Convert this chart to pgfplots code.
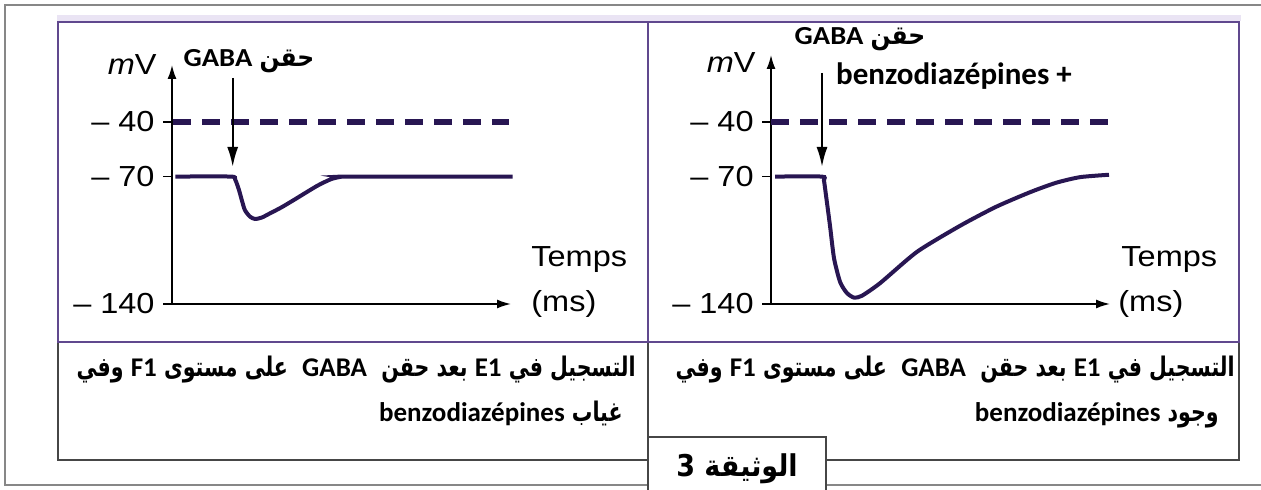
\documentclass[border=0pt]{standalone}
\usepackage{fontspec}
\usepackage{pgfplots}
\pgfplotsset{compat=1.18}
\usetikzlibrary{arrows.meta}
\setmainfont{Liberation Sans}
\TeXXeTstate=1
\newfontfamily\helv[FakeStretch=1.12]{Liberation Sans}
\newfontfamily\arabicfont[Script=Arabic,FakeStretch=0.9]{DejaVu Sans}
\newfontfamily\arabiccap[Script=Arabic,FakeStretch=0.76]{DejaVu Sans}
\newfontfamily\calfont{Carlito}
\newfontfamily\calwfont[FakeStretch=1.1]{Carlito}
\definecolor{curvec}{RGB}{40,22,82}
\definecolor{framec}{RGB}{96,72,142}
\definecolor{lav}{RGB}{234,228,244}
\definecolor{outerc}{RGB}{135,135,135}
\definecolor{boxc}{RGB}{70,70,70}
\newcommand{\lbl}{\fontsize{14.5}{16}\selectfont\helv}
\newcommand{\la}[1]{\beginL{\fontsize{13.5}{15}\selectfont\calfont\bfseries #1}\endL{}}
\newcommand{\lw}[1]{\beginL{\calwfont\bfseries #1}\endL{}}
\pgfplotsset{panel/.style={
  scale only axis, width=169.5pt,
  axis lines=left,
  axis line style={line width=0.8pt, black, -{Latex[length=7pt,width=4.5pt]}},
  xmin=0, xmax=100, ymin=-140,
  xtick=\empty,
  ytick={-140,-70,-40},
  yticklabels={– 140,– 70,– 40},
  tick align=outside, major tick length=4.5pt,
  tick style={line width=0.8pt, black},
  yticklabel style={font=\lbl, inner sep=0pt, xshift=-4pt},
  clip=false}}
\begin{document}
\begin{tikzpicture}[x=0.5pt,y=-0.5pt]
\useasboundingbox (0,0) rectangle (1261,490);
% outer gray frame
\draw[outerc, line width=0.8pt] (5,5) rectangle (1290,485);
\fill[lav] (57,15) rectangle (1241,21);
% caption box
\draw[boxc, line width=0.7pt] (58,342) -- (58,460) -- (1239,460) -- (1239,342);
\draw[boxc, line width=0.7pt] (648,342) -- (648,437);
\fill[white] (648,437) rectangle (826,495);
\draw[boxc, line width=0.7pt] (648,495) -- (648,437) -- (826,437) -- (826,495);
% purple frame
\draw[framec, line width=1.1pt] (58,22) rectangle (1239,342);
\draw[framec, line width=1.1pt] (648,22) -- (648,342);

% ---- left panel
\begin{axis}[panel, at={(86pt,-152pt)}, anchor=south west, height=119.5pt, ymax=-8.7]
\addplot[curvec, line width=2.7pt, dash pattern=on 9pt off 5.5pt] coordinates {(0.3,-40) (99.4,-40)};
\addplot[curvec, line width=2pt, smooth, tension=0.4] coordinates {
(1,-70)(17.3,-70)(18.6,-71.5)(19.7,-77)(20.6,-83)(21.5,-88.4)(23,-92)(24.5,-93.3)
(26.5,-92.5)(28.6,-90.5)(32.2,-87)(36,-82.8)(39.5,-78.8)(43.1,-74.8)(46.8,-71.5)(49.6,-70.2)(53,-70)(100.5,-70)};
\node[anchor=east, inner sep=0pt, font=\lbl, xshift=-7.5pt] at (rel axis cs:0,1) {{\itshape m}V};
\node[anchor=west, inner sep=0pt, font=\lbl, xshift=10pt] at (rel axis cs:1,0) {(ms)};
\node[anchor=west, inner sep=0pt, font=\lbl, xshift=10pt, yshift=22pt] at (rel axis cs:1,0) {Temps};
\end{axis}

% ---- right panel
\begin{axis}[panel, at={(385.5pt,-152pt)}, anchor=south west, height=124.5pt, ymax=-3.2]
\addplot[curvec, line width=2.7pt, dash pattern=on 9pt off 5.5pt] coordinates {(0,-40) (99.7,-40)};
\addplot[curvec, line width=2pt, smooth, tension=0.4] coordinates {
(1.2,-70)(15,-70)(15.6,-72)(16.2,-80)(17.4,-97)(18.6,-115)(20.4,-128)(22.4,-134)(24.5,-136.5)
(26.8,-135.5)(32.2,-128.5)(43.1,-111.3)(55.8,-97)(66.4,-86.6)(76.4,-78.6)(84.1,-73.4)(91.2,-70.3)(99.7,-69)};
\node[anchor=east, inner sep=0pt, font=\lbl, xshift=-7.5pt, yshift=-4pt] at (rel axis cs:0,1) {{\itshape m}V};
\node[anchor=west, inner sep=0pt, font=\lbl, xshift=4pt] at (rel axis cs:1,0) {(ms)};
\node[anchor=west, inner sep=0pt, font=\lbl, xshift=5.5pt, yshift=22pt] at (rel axis cs:1,0) {Temps};
\end{axis}

% injection arrows
\draw[line width=1.1pt, -{Latex[length=10pt,width=5.5pt]}] (232.7,78) -- (232.7,167);
\draw[line width=1.1pt, -{Latex[length=10pt,width=5.5pt]}] (822,73) -- (822,167);

% top labels
\node[anchor=base, inner sep=0pt, font=\fontsize{13}{15}\selectfont] at (249,67)
  {\beginR{\arabicfont\bfseries حقن} \lw{GABA}\endR};
\node[anchor=base, inner sep=0pt, font=\fontsize{13}{15}\selectfont] at (860,45)
  {\beginR{\arabicfont\bfseries حقن} \lw{GABA}\endR};
\node[anchor=base, inner sep=0pt, font=\fontsize{15.5}{17}\selectfont] at (954,85)
  {\calfont\bfseries benzodiazépines +};

% captions
\node[anchor=base east, inner sep=0pt, font=\fontsize{13.5}{15}\selectfont] at (636,377)
  {\arabiccap\bfseries\beginR التسجيل في \la{E1} بعد حقن \ \la{GABA} \ على مستوى \la{F1} وفي\endR};
\node[anchor=base east, inner sep=0pt, font=\fontsize{13.5}{15}\selectfont] at (623,422)
  {\arabiccap\bfseries\beginR غياب \la{benzodiazépines}\endR};
\node[anchor=base east, inner sep=0pt, font=\fontsize{13.5}{15}\selectfont] at (1235,377)
  {\arabiccap\bfseries\beginR التسجيل في \la{E1} بعد حقن \ \la{GABA} \ على مستوى \la{F1} وفي\endR};
\node[anchor=base east, inner sep=0pt, font=\fontsize{13.5}{15}\selectfont] at (1219,422)
  {\arabiccap\bfseries\beginR وجود \la{benzodiazépines}\endR};
\node[anchor=base, inner sep=0pt, font=\fontsize{15}{17}\selectfont] at (737,477)
  {\arabicfont\bfseries\beginR الوثيقة \beginL3\endL\endR};
\end{tikzpicture}
\end{document}
